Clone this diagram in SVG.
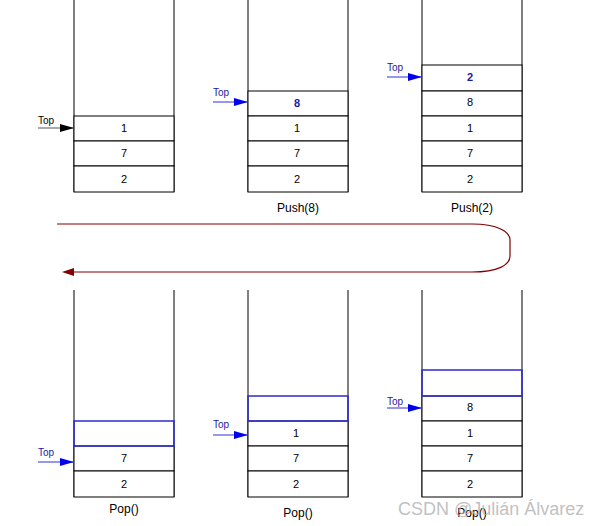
<svg xmlns="http://www.w3.org/2000/svg" width="604" height="526" viewBox="0 0 604 526">
<style>
.wall{stroke:#000;stroke-width:1;fill:none}
.cell{stroke:#000;stroke-width:1;fill:#fff}
.blue{stroke:#2b2bd0;stroke-width:1.5;fill:none}
.num{font-family:"Liberation Sans",Arial,sans-serif;font-size:11px;text-anchor:middle;fill:#000}
.bnum{font-family:"Liberation Sans",Arial,sans-serif;font-size:11px;font-weight:bold;text-anchor:middle;fill:#1a1aa0}
.lbl{font-family:"Liberation Sans",Arial,sans-serif;font-size:12px;text-anchor:middle;fill:#000}
.top{font-family:"Liberation Sans",Arial,sans-serif;font-size:10px;fill:#000}
.topb{font-family:"Liberation Sans",Arial,sans-serif;font-size:10px;fill:#1a1aa0}
.pk{stroke:#555;stroke-width:1.2;fill:none}
.pb{stroke:#3030e0;stroke-width:1.2;fill:none}
.wm{font-family:"Liberation Sans",Arial,sans-serif;font-size:18px;fill:#b0b0b0;fill-opacity:0.8}
</style>
<defs>
<marker id="ak" markerWidth="14" markerHeight="8" refX="14" refY="4" orient="auto" markerUnits="userSpaceOnUse"><path d="M0,0 L14,4 L0,8 Z" fill="#000"/></marker>
<marker id="ab" markerWidth="14" markerHeight="8" refX="14" refY="4" orient="auto" markerUnits="userSpaceOnUse"><path d="M0,0 L14,4 L0,8 Z" fill="#0000ee"/></marker>
<marker id="ar" markerWidth="12" markerHeight="8" refX="0" refY="4" orient="auto-start-reverse" markerUnits="userSpaceOnUse"><path d="M0,0 L12,4 L0,8 Z" fill="#800000"/></marker>
</defs>

<g id="stack1">
<path class="wall" d="M74,0 V192 M174,0 V192"/>
<rect class="cell" x="74" y="116" width="100" height="25"/>
<rect class="cell" x="74" y="141" width="100" height="25"/>
<rect class="cell" x="74" y="166" width="100" height="26"/>
<text class="num" x="124" y="132">1</text>
<text class="num" x="124" y="157">7</text>
<text class="num" x="124" y="183">2</text>
<text class="top" x="38" y="124">Top</text>
<line class="pk" x1="38" y1="128" x2="74" y2="128" marker-end="url(#ak)"/>
</g>

<g id="stack2">
<path class="wall" d="M248,0 V192 M348,0 V192"/>
<rect class="cell" x="248" y="91" width="100" height="25"/>
<rect class="cell" x="248" y="116" width="100" height="25"/>
<rect class="cell" x="248" y="141" width="100" height="25"/>
<rect class="cell" x="248" y="166" width="100" height="26"/>
<text class="bnum" x="297" y="107">8</text>
<text class="num" x="297" y="132">1</text>
<text class="num" x="297" y="157">7</text>
<text class="num" x="297" y="183">2</text>
<text class="topb" x="213" y="96">Top</text>
<line class="pb" x1="213" y1="102" x2="248" y2="102" marker-end="url(#ab)"/>
<text class="lbl" x="298" y="212">Push(8)</text>
</g>

<g id="stack3">
<path class="wall" d="M422,0 V192 M522,0 V192"/>
<rect class="cell" x="422" y="65" width="100" height="26"/>
<rect class="cell" x="422" y="91" width="100" height="25"/>
<rect class="cell" x="422" y="116" width="100" height="25"/>
<rect class="cell" x="422" y="141" width="100" height="25"/>
<rect class="cell" x="422" y="166" width="100" height="26"/>
<text class="bnum" x="470" y="81">2</text>
<text class="num" x="470" y="106">8</text>
<text class="num" x="470" y="132">1</text>
<text class="num" x="470" y="157">7</text>
<text class="num" x="470" y="183">2</text>
<text class="topb" x="387" y="71">Top</text>
<line class="pb" x1="387" y1="77" x2="422" y2="77" marker-end="url(#ab)"/>
<text class="lbl" x="472" y="212">Push(2)</text>
</g>

<g id="connectors">
<path d="M57,224 H472 C498,224 510,232 510,240 V256 C510,265 498,272 472,272 H74" stroke="#800000" stroke-width="1.2" fill="none" marker-end="url(#ar)"/>
</g>

<g id="stack4">
<path class="wall" d="M74,290 V497 M174,290 V497"/>
<rect class="cell" x="74" y="446" width="100" height="25"/>
<rect class="cell" x="74" y="471" width="100" height="26"/>
<rect class="blue" x="74" y="421" width="100" height="25"/>
<text class="num" x="124" y="462">7</text>
<text class="num" x="124" y="488">2</text>
<text class="topb" x="38" y="456">Top</text>
<line class="pb" x1="38" y1="462" x2="74" y2="462" marker-end="url(#ab)"/>
<text class="lbl" x="124" y="513">Pop()</text>
</g>

<g id="stack5">
<path class="wall" d="M248,290 V497 M348,290 V497"/>
<rect class="cell" x="248" y="421" width="100" height="25"/>
<rect class="cell" x="248" y="446" width="100" height="25"/>
<rect class="cell" x="248" y="471" width="100" height="26"/>
<rect class="blue" x="248" y="396" width="100" height="25"/>
<text class="num" x="296" y="437">1</text>
<text class="num" x="296" y="462">7</text>
<text class="num" x="296" y="488">2</text>
<text class="topb" x="213" y="428">Top</text>
<line class="pb" x1="213" y1="435" x2="248" y2="435" marker-end="url(#ab)"/>
<text class="lbl" x="298" y="517">Pop()</text>
</g>

<g id="stack6">
<path class="wall" d="M422,290 V497 M522,290 V497"/>
<rect class="cell" x="422" y="396" width="100" height="25"/>
<rect class="cell" x="422" y="421" width="100" height="25"/>
<rect class="cell" x="422" y="446" width="100" height="25"/>
<rect class="cell" x="422" y="471" width="100" height="26"/>
<rect class="blue" x="422" y="370" width="100" height="26"/>
<text class="num" x="470" y="411">8</text>
<text class="num" x="470" y="437">1</text>
<text class="num" x="470" y="462">7</text>
<text class="num" x="470" y="488">2</text>
<text class="topb" x="387" y="405">Top</text>
<line class="pb" x1="387" y1="408" x2="422" y2="408" marker-end="url(#ab)"/>
<text class="lbl" x="472" y="517">Pop()</text>
</g>

<text class="wm" x="398" y="515">CSDN @Julián Álvarez</text>
</svg>
